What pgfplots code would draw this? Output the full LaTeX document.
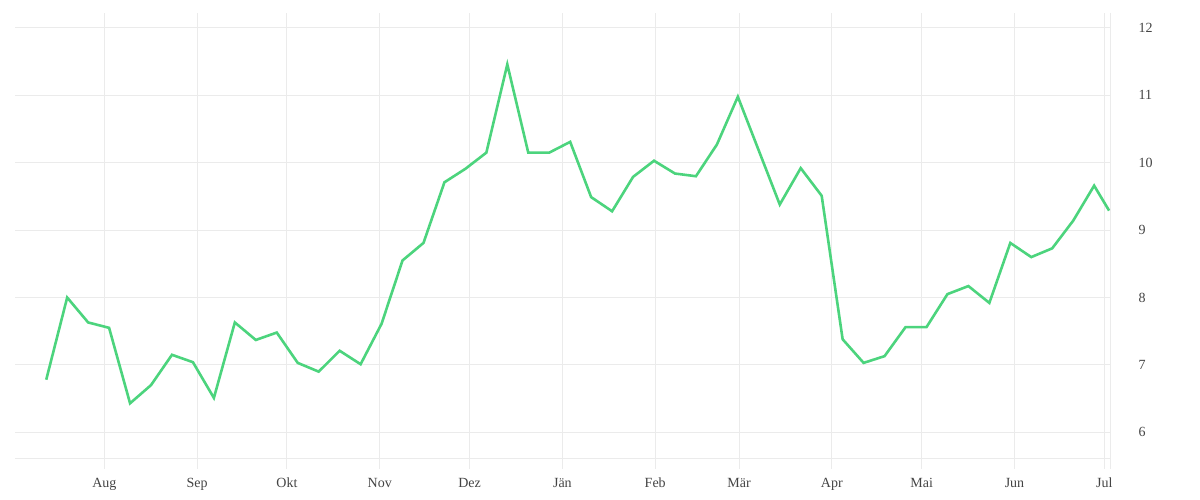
\documentclass[border=0pt]{standalone}
\usepackage{fontspec}
\setmainfont{Liberation Serif}
\usepackage{pgfplots}
\pgfplotsset{compat=1.18}

\definecolor{gridgray}{RGB}{235,235,235}
\definecolor{linegreen}{RGB}{76,212,125}
\definecolor{labelgray}{RGB}{68,68,68}

% x = days after 1 Aug, y = weekly value
\pgfplotstableread{
x y
-19.4 6.78
-12.4 8.00
-5.4 7.63
1.6 7.55
8.6 6.43
15.6 6.70
22.6 7.15
29.6 7.04
36.6 6.51
43.6 7.63
50.6 7.37
57.6 7.48
64.6 7.03
71.6 6.90
78.6 7.21
85.6 7.01
92.6 7.61
99.6 8.55
106.6 8.81
113.6 9.71
120.6 9.91
127.6 10.15
134.6 11.46
141.6 10.15
148.6 10.15
155.6 10.31
162.6 9.49
169.6 9.28
176.6 9.79
183.6 10.03
190.6 9.84
197.6 9.80
204.6 10.27
211.6 10.98
218.6 10.18
225.6 9.38
232.6 9.92
239.6 9.51
246.6 7.38
253.6 7.03
260.6 7.13
267.6 7.56
274.6 7.56
281.6 8.05
288.6 8.17
295.6 7.92
302.6 8.81
309.6 8.60
316.6 8.73
323.6 9.14
330.6 9.66
335.6 9.29
}\weekly

\begin{document}
\begin{tikzpicture}[x=1bp,y=1bp]
\useasboundingbox (0,0) rectangle (1200,500);
\begin{axis}[
at={(15bp,41.7bp)}, anchor=south west,
scale only axis,
width=1095bp, height=445.6bp,
xmin=-29.83, xmax=335.9,
ymin=5.614, ymax=12.227,
axis line style={draw=none},
xtick={0,31,61,92,122,153,184,212,243,273,304,334},
xticklabels={Aug,Sep,Okt,Nov,Dez,Jän,Feb,Mär,Apr,Mai,Jun,Jul},
ytick={6,7,8,9,10,11,12},
yticklabels={6,7,8,9,10,11,12},
xtick pos=bottom,
ytick pos=right,
yticklabel pos=right,
tick align=outside,
major tick length=10.7bp,
xtick style={draw=gridgray, line width=1bp},
ytick style={draw=none},
xmajorgrids, ymajorgrids,
grid style={draw=gridgray, line width=1bp},
xticklabel style={font=\fontsize{14bp}{16bp}\selectfont, text=labelgray, anchor=base, inner sep=0pt, yshift=-19bp},
yticklabel style={font=\fontsize{14bp}{16bp}\selectfont, text=labelgray, anchor=west, inner sep=0pt, xshift=17.7bp},
clip=false,
]
\draw[gridgray, line width=1bp] (rel axis cs:0,0) -- (rel axis cs:1,0);
\draw[gridgray, line width=1bp] (rel axis cs:1,1) -- ([yshift=-10.7bp]rel axis cs:1,0);
\addplot[linegreen, line width=2.6bp, line join=miter] table[x=x, y=y] {\weekly};
\end{axis}
\end{tikzpicture}
\end{document}
